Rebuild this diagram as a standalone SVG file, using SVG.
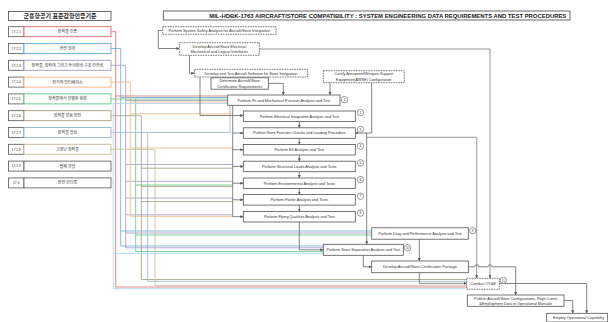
<svg xmlns="http://www.w3.org/2000/svg" width="608" height="322" viewBox="0 0 608 322">
<style>
.bg{fill:#fff}
.box{fill:#fff;stroke:#555;stroke-width:0.8}
.dash{stroke-dasharray:1.6 0.9}
.t{font-family:"Liberation Sans","Noto Sans CJK KR",sans-serif;font-size:3.8px;text-anchor:middle;fill:#333}
.k{font-family:"Noto Sans CJK KR","Liberation Sans",sans-serif;font-size:4px;text-anchor:middle;fill:#333}
.n{font-family:"Liberation Sans",sans-serif;font-size:3.4px;text-anchor:middle;fill:#333}
.c{fill:none;stroke:#666;stroke-width:0.8}
.cg{fill:none;stroke:#999;stroke-width:1}
.cl{fill:none;stroke-width:0.9;stroke-opacity:0.9}
.circ{fill:#fff;stroke:#555;stroke-width:0.6}
</style>
<defs>
<marker id="ar" markerUnits="userSpaceOnUse" markerWidth="3.2" markerHeight="3.2" refX="3" refY="1.5" orient="auto">
<path d="M0,0 L3,1.5 L0,3 z" fill="#555"/>
</marker>
</defs>
<rect class="bg" x="0" y="0" width="608" height="322"/>

<!-- Left panel -->
<g id="kmas-title">
<rect x="8.5" y="11.5" width="102.5" height="9" fill="#fff" stroke="#444" stroke-width="0.8"/>
<text x="60" y="18" style="font-family:'Noto Sans CJK KR',sans-serif;font-size:6px;font-weight:bold;text-anchor:middle;fill:#222">군용항공기 표준감항인증기준</text>
</g>
<g id="r1"><rect x="8.5" y="26.7" width="15.5" height="10" class="box"/><rect x="24" y="26.7" width="87" height="10" fill="#fff" stroke="#d46a6a" stroke-width="0.9"/><text class="n" x="16.25" y="32.9">17.2.1</text><text class="k" x="67.5" y="33.1">장착물 인증</text></g>
<g id="r2"><rect x="8.5" y="43.5" width="15.5" height="10" class="box"/><rect x="24" y="43.5" width="87" height="10" fill="#fff" stroke="#6aaed6" stroke-width="0.9"/><text class="n" x="16.25" y="49.7">17.2.2</text><text class="k" x="67.5" y="49.9">안전 분리</text></g>
<g id="r3"><rect x="8.5" y="60.3" width="15.5" height="10" class="box"/><rect x="24" y="60.3" width="87" height="10" fill="#fff" stroke="#a899c8" stroke-width="0.9"/><text class="n" x="16.25" y="66.5">17.2.3</text><text class="k" x="67.5" y="66.7">장착물, 장착대 그리고 투하장비 구조 건전성</text></g>
<g id="r4"><rect x="8.5" y="77.1" width="15.5" height="10" class="box"/><rect x="24" y="77.1" width="87" height="10" fill="#fff" stroke="#f5b27a" stroke-width="0.9"/><text class="n" x="16.25" y="83.3">17.2.4</text><text class="k" x="67.5" y="83.5">전기적 인터페이스</text></g>
<g id="r5"><rect x="8.5" y="93.9" width="15.5" height="10" class="box"/><rect x="24" y="93.9" width="87" height="10" fill="#fff" stroke="#5ec98a" stroke-width="0.9"/><text class="n" x="16.25" y="100.1">17.2.5</text><text class="k" x="67.5" y="100.3">장착물에서 유발된 환경</text></g>
<g id="r6"><rect x="8.5" y="110.7" width="15.5" height="10" class="box"/><rect x="24" y="110.7" width="87" height="10" fill="#fff" stroke="#a39d7e" stroke-width="0.9"/><text class="n" x="16.25" y="116.9">17.2.6</text><text class="k" x="67.5" y="117.1">장착물 운용 안전</text></g>
<g id="r7"><rect x="8.5" y="127.5" width="15.5" height="10" class="box"/><rect x="24" y="127.5" width="87" height="10" fill="#fff" stroke="#9bb3cf" stroke-width="0.9"/><text class="n" x="16.25" y="133.7">17.2.7</text><text class="k" x="67.5" y="133.9">장착물 형상</text></g>
<g id="r8"><rect x="8.5" y="144.3" width="15.5" height="10" class="box"/><rect x="24" y="144.3" width="87" height="10" fill="#fff" stroke="#c9b99a" stroke-width="0.9"/><text class="n" x="16.25" y="150.5">17.2.8</text><text class="k" x="67.5" y="150.7">고장난 장착물</text></g>
<g id="r9"><rect x="8.5" y="161.1" width="15.5" height="10" class="box"/><rect x="24" y="161.1" width="87" height="10" class="box"/><text class="n" x="16.25" y="167.3">17.2.9</text><text class="k" x="67.5" y="167.5">탑재 유형</text></g>
<g id="r10"><rect x="8.5" y="177.9" width="15.5" height="10" class="box"/><rect x="24" y="177.9" width="87" height="10" class="box"/><text class="n" x="16.25" y="184.1">17.4</text><text class="k" x="67.5" y="184.3">안전 인터록</text></g>

<!-- Colored requirement lines -->
<g id="req-lines">
<path class="cl" stroke="#d46a6a" d="M111,31.7 H115.7 V287 H466.7 M115.7,96 H227.7"/>
<path class="cl" stroke="#6aaed6" d="M111,48.5 H120.7 V246 H323.3 M120.7,97.5 H227.7 M120.7,231 H371.7"/>
<path class="cl" stroke="#a899c8" d="M111,65.3 H125.7 V247.8 H323.3 M125.7,100.5 H227.7 M125.7,164.5 H232.7 M125.7,181.3 H232.7 M125.7,198 H232.7 M125.7,214.8 H232.7 M125.7,233 H371.7"/>
<path class="cl" stroke="#f5b27a" d="M111,82.1 H130.3 V216.3 H232.7 M130.3,102 H227.7 M130.3,113.8 H232.7 M130.3,148 H232.7"/>
<path class="cl" stroke="#5ec98a" d="M111,99 H227.7 M135.7,99 V251.6 H323.3 M135.7,185 H232.7 M135.7,235 H371.7"/>
<path class="cl" stroke="#a39d7e" d="M111,115.7 H141.3 V279.5 H466.7 M141.3,168.2 H232.7 M141.3,186.5 H232.7 M141.3,201.6 H232.7"/>
<path class="cl" stroke="#9bb3cf" d="M111,132.5 H230 V105.3 M147.7,132.5 V281.3 H466.7"/>
<path class="cl" stroke="#c9b99a" d="M111,149.3 H155 V285.3 H466.7"/>
<path class="cl" stroke="#a7d8ee" d="M111,182.9 H113.3 M113.3,103.5 H227.7 M113.3,103.5 V288.7 H466.7 M113.3,253.4 H323.3"/>
</g>

<!-- Right panel -->
<g id="mil-title">
<rect x="163.3" y="11" width="406.7" height="9" fill="#fff" stroke="#444" stroke-width="0.8"/>
<text x="209.3" y="17.6" textLength="357" lengthAdjust="spacingAndGlyphs" style="font-family:'Liberation Sans',sans-serif;font-size:5.2px;font-weight:bold;fill:#222">MIL-HDBK-1763 AIRCRAFT/STORE COMPATIBILITY : SYSTEM ENGINEERING DATA REQUIREMENTS AND TEST PROCEDURES</text>
</g>

<g id="connectors">
<path class="c" marker-end="url(#ar)" d="M162.7,30.5 H158.3 V48.5 H179.3"/>
<path class="c" marker-end="url(#ar)" d="M189.5,55.3 V73.2 H194.3"/>
<path class="c" marker-end="url(#ar)" d="M200,77 V115.5 H243.3"/>
<path class="c" marker-end="url(#ar)" d="M268.3,83.4 H283.3 V95"/>
<path class="c" marker-end="url(#ar)" d="M330,82.7 V95"/>
<path class="c" marker-end="url(#ar)" d="M371.7,82.7 V133 H355.3"/>
<path class="c" marker-end="url(#ar)" d="M366.7,133 V244.3"/>
<path class="cg" marker-end="url(#ar)" d="M366.7,137.3 H476.7 V278.3"/>
<path class="cg" marker-end="url(#ar)" d="M259.3,49 H490 V278.3"/>
<path class="c" d="M232.7,105.3 V216.7"/>
<path class="c" marker-end="url(#ar)" d="M232.7,133 H243.3"/>
<path class="c" marker-end="url(#ar)" d="M232.7,149.7 H243.3"/>
<path class="c" marker-end="url(#ar)" d="M232.7,166.4 H243.3"/>
<path class="c" marker-end="url(#ar)" d="M232.7,183.2 H243.3"/>
<path class="c" marker-end="url(#ar)" d="M232.7,199.8 H243.3"/>
<path class="c" marker-end="url(#ar)" d="M232.7,216.7 H243.3"/>
<path class="c" marker-end="url(#ar)" d="M299.3,121.5 V127.8"/>
<path class="c" marker-end="url(#ar)" d="M299.3,138.3 V144.5"/>
<path class="c" marker-end="url(#ar)" d="M299.3,155 V161.2"/>
<path class="c" marker-end="url(#ar)" d="M299.3,171.7 V178"/>
<path class="c" marker-end="url(#ar)" d="M299.3,188.5 V194.6"/>
<path class="c" marker-end="url(#ar)" d="M299.3,205.1 V211.5"/>
<path class="c" marker-end="url(#ar)" d="M299.3,222 V249.8 H323.3"/>
<path class="c" marker-end="url(#ar)" d="M363.3,255.3 V266.8 H371.7"/>
<path class="c" marker-end="url(#ar)" d="M419.3,239.2 V261"/>
<path class="c" marker-end="url(#ar)" d="M468.3,266.8 H474.7 a2,2 0 0 1 4,0 H488 a2,2 0 0 1 4,0 H515.7 V295"/>
<path class="c" marker-end="url(#ar)" d="M419.3,272.7 V283.3 H466.7"/>
<path class="c" marker-end="url(#ar)" d="M499.3,283.5 H586.7 V313.3"/>
<path class="c" marker-end="url(#ar)" d="M564,300.5 H572.7 V313.3"/>
</g>

<g id="safety"><rect class="box dash" x="162.7" y="26.7" width="113.3" height="7.6"/><text class="t" x="219.3" y="31.8">Perform System Safety Analysis for Aircraft/Store Integration</text></g>
<g id="elec-mech"><rect class="box dash" x="179.3" y="42.7" width="80" height="12.6"/><text class="t" x="219.3" y="47.7">Develop Aircraft/Store Electrical</text><text class="t" x="219.3" y="53">Mechanical and Logical Interfaces</text></g>
<g id="software"><rect class="box dash" x="194.3" y="69.3" width="113.4" height="7.7"/><text class="t" x="251" y="74.5">Develop and Test Aircraft Software for Store Integration</text></g>
<g id="determine"><rect class="box" x="211" y="77.8" width="57.3" height="11.4"/><text class="t" x="239.7" y="82.3">Determine Aircraft/Store</text><text class="t" x="239.7" y="87.6">Certification Requirements</text></g>
<g id="certify"><rect class="box dash" x="323.3" y="70.7" width="81" height="12"/><text class="t" x="363.8" y="75.4">Certify Armament/Weapon Support</text><text class="t" x="363.8" y="80.8">Equipment(AWSE) Configuration</text></g>

<g id="n1"><rect class="box" x="227.7" y="95" width="112.3" height="10.3"/><text class="t" x="283.8" y="101.5">Perform Fit and Mechanical Function Analysis and Test</text><circle class="circ" cx="344.5" cy="99.7" r="3.2"/><text class="n" x="344.5" y="100.9">1</text></g>
<g id="n2"><rect class="box" x="243.3" y="111" width="112" height="10.5"/><text class="t" x="299.3" y="117.5">Perform Electrical Integration Analysis and Test</text><circle class="circ" cx="360.5" cy="112.6" r="3.2"/><text class="n" x="360.5" y="113.8">2</text></g>
<g id="n3"><rect class="box" x="243.3" y="127.8" width="112" height="10.5"/><text class="t" x="299.3" y="134.3">Publish Store Function Checks and Loading Procedure</text><circle class="circ" cx="360.5" cy="129.4" r="3.2"/><text class="n" x="360.5" y="130.6">3</text></g>
<g id="n4"><rect class="box" x="243.3" y="144.5" width="112" height="10.5"/><text class="t" x="299.3" y="151">Perform E3 Analysis and Test</text><circle class="circ" cx="360.5" cy="146.1" r="3.2"/><text class="n" x="360.5" y="147.3">4</text></g>
<g id="n5"><rect class="box" x="243.3" y="161.2" width="112" height="10.5"/><text class="t" x="299.3" y="167.7">Perform Structural Loads Analysis and Tests</text><circle class="circ" cx="360.5" cy="162.8" r="3.2"/><text class="n" x="360.5" y="164">5</text></g>
<g id="n6"><rect class="box" x="243.3" y="178" width="112" height="10.5"/><text class="t" x="299.3" y="184.5">Perform Environmental Analysis and Tests</text><circle class="circ" cx="360.5" cy="179.6" r="3.2"/><text class="n" x="360.5" y="180.8">6</text></g>
<g id="n7"><rect class="box" x="243.3" y="194.6" width="112" height="10.5"/><text class="t" x="299.3" y="201.1">Perform Flutter Analysis and Tests</text><circle class="circ" cx="360.5" cy="196.2" r="3.2"/><text class="n" x="360.5" y="197.4">7</text></g>
<g id="n8"><rect class="box" x="243.3" y="211.5" width="112" height="10.5"/><text class="t" x="299.3" y="218">Perform Flying Qualities Analysis and Test</text><circle class="circ" cx="360.5" cy="213.1" r="3.2"/><text class="n" x="360.5" y="214.3">8</text></g>
<g id="n9"><rect class="box" x="371.7" y="227.8" width="96.6" height="11.4"/><text class="t" x="420" y="234.8">Perform Drag and Performance Analysis and Test</text><circle class="circ" cx="472.8" cy="230.7" r="3.2"/><text class="n" x="472.8" y="231.9">9</text></g>
<g id="n10"><rect class="box" x="323.3" y="244.3" width="80" height="11"/><text class="t" x="363.3" y="251.1">Perform Store Separation Analysis and Test</text><circle class="circ" cx="407.6" cy="247.7" r="3.2"/><text class="n" x="407.6" y="248.9" style="font-size:3px">10</text></g>
<g id="n11"><rect class="box" x="371.7" y="261" width="96.6" height="11.7"/><text class="t" x="420" y="268.2">Develop Aircraft/Store Certification Package</text></g>
<g id="ote"><rect class="box dash" x="466.7" y="278.3" width="32.6" height="11"/><text class="t" x="483" y="285.1">Conduct OT&amp;E</text><circle class="circ" cx="503.3" cy="280.3" r="3.2"/><text class="n" x="503.3" y="281.5" style="font-size:3px">11</text></g>
<g id="publish"><rect class="box" x="467.3" y="295" width="96.7" height="11.3"/><text class="t" x="515.7" y="299.6">Publish Aircraft/Store Configurations, Flight Limits</text><text class="t" x="515.7" y="304.7">&amp;Employment Data in Operational Manuals</text></g>
<g id="employ"><rect class="box" x="546.7" y="313.3" width="61" height="8.7"/><text class="t" x="578.5" y="319">Employ Operational Capability</text></g>
</svg>
